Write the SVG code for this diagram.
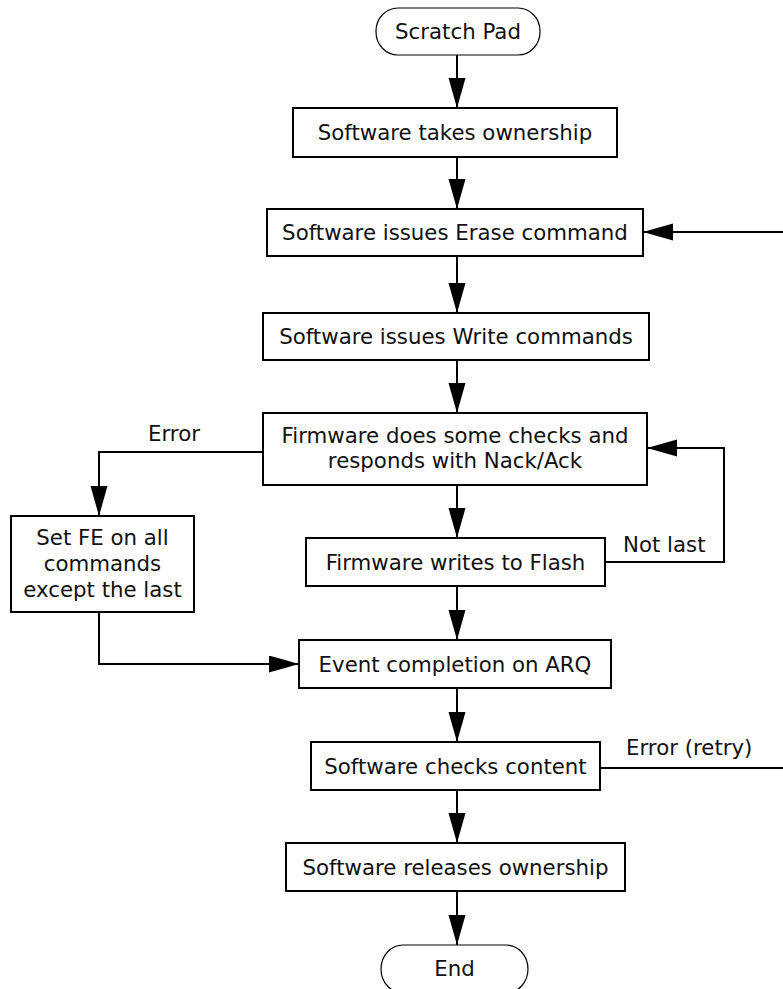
<svg xmlns="http://www.w3.org/2000/svg" width="783" height="989" viewBox="0 0 783 989">
<style>
.box{fill:#fff;stroke:#000;stroke-width:2}
.term{fill:#fff;stroke:#000;stroke-width:1.2}
.t{font-family:"DejaVu Sans","Verdana",sans-serif;font-size:21.3px;fill:#111;text-anchor:middle}
.lbl{font-family:"DejaVu Sans","Verdana",sans-serif;font-size:21.3px;fill:#111}
.c{fill:none;stroke:#000;stroke-width:2}
</style>
<defs>
<marker id="ah" markerUnits="userSpaceOnUse" markerWidth="31" markerHeight="18" refX="30" refY="8.5" orient="auto">
<path d="M0,0 L30,8.5 L0,17 z" fill="#000"/>
</marker>
</defs>
<g id="connectors">
<path class="c" d="M457,55 V108" marker-end="url(#ah)"/>
<path class="c" d="M457,157 V209" marker-end="url(#ah)"/>
<path class="c" d="M457,256 V313" marker-end="url(#ah)"/>
<path class="c" d="M457,360 V413" marker-end="url(#ah)"/>
<path class="c" d="M457,485 V538" marker-end="url(#ah)"/>
<path class="c" d="M457,586 V640" marker-end="url(#ah)"/>
<path class="c" d="M457,688 V742" marker-end="url(#ah)"/>
<path class="c" d="M457,790 V843" marker-end="url(#ah)"/>
<path class="c" d="M457,891 V945" marker-end="url(#ah)"/>
<path class="c" d="M263,452 H99 V516" marker-end="url(#ah)"/>
<path class="c" d="M605,562 H724 V448 H647" marker-end="url(#ah)"/>
<path class="c" d="M99,612 V664 H299" marker-end="url(#ah)"/>
<path class="c" d="M600,768 H785 V232 H643" marker-end="url(#ah)"/>
<text class="lbl" x="148" y="441">Error</text>
<text class="lbl" x="623" y="552">Not last</text>
<text class="lbl" x="626" y="755">Error (retry)</text>
</g>
<g id="scratch"><rect class="term" x="376" y="8" width="164" height="47" rx="22" ry="23"/><text class="t" x="458" y="39">Scratch Pad</text></g>
<g id="own"><rect class="box" x="293" y="108" width="324" height="49"/><text class="t" x="455" y="140">Software takes ownership</text></g>
<g id="erase"><rect class="box" x="267" y="209" width="376" height="47"/><text class="t" x="455" y="240">Software issues Erase command</text></g>
<g id="write"><rect class="box" x="263" y="313" width="386" height="47"/><text class="t" x="456" y="344">Software issues Write commands</text></g>
<g id="fwcheck"><rect class="box" x="263" y="413" width="384" height="72"/><text class="t" x="455" y="443">Firmware does some checks and</text><text class="t" x="455" y="468">responds with Nack/Ack</text></g>
<g id="setfe"><rect class="box" x="11" y="516" width="183" height="96"/><text class="t" x="102.5" y="545">Set FE on all</text><text class="t" x="102.5" y="571">commands</text><text class="t" x="102.5" y="597">except the last</text></g>
<g id="flash"><rect class="box" x="306" y="538" width="299" height="48"/><text class="t" x="455.5" y="569.5">Firmware writes to Flash</text></g>
<g id="event"><rect class="box" x="299" y="640" width="312" height="48"/><text class="t" x="455" y="671.5">Event completion on ARQ</text></g>
<g id="checks"><rect class="box" x="311" y="742" width="289" height="48"/><text class="t" x="455.5" y="773.5">Software checks content</text></g>
<g id="release"><rect class="box" x="286" y="843" width="339" height="48"/><text class="t" x="455.5" y="874.5">Software releases ownership</text></g>
<g id="end"><rect class="term" x="381" y="945" width="147" height="48" rx="22" ry="24"/><text class="t" x="454.5" y="976">End</text></g>
</svg>
